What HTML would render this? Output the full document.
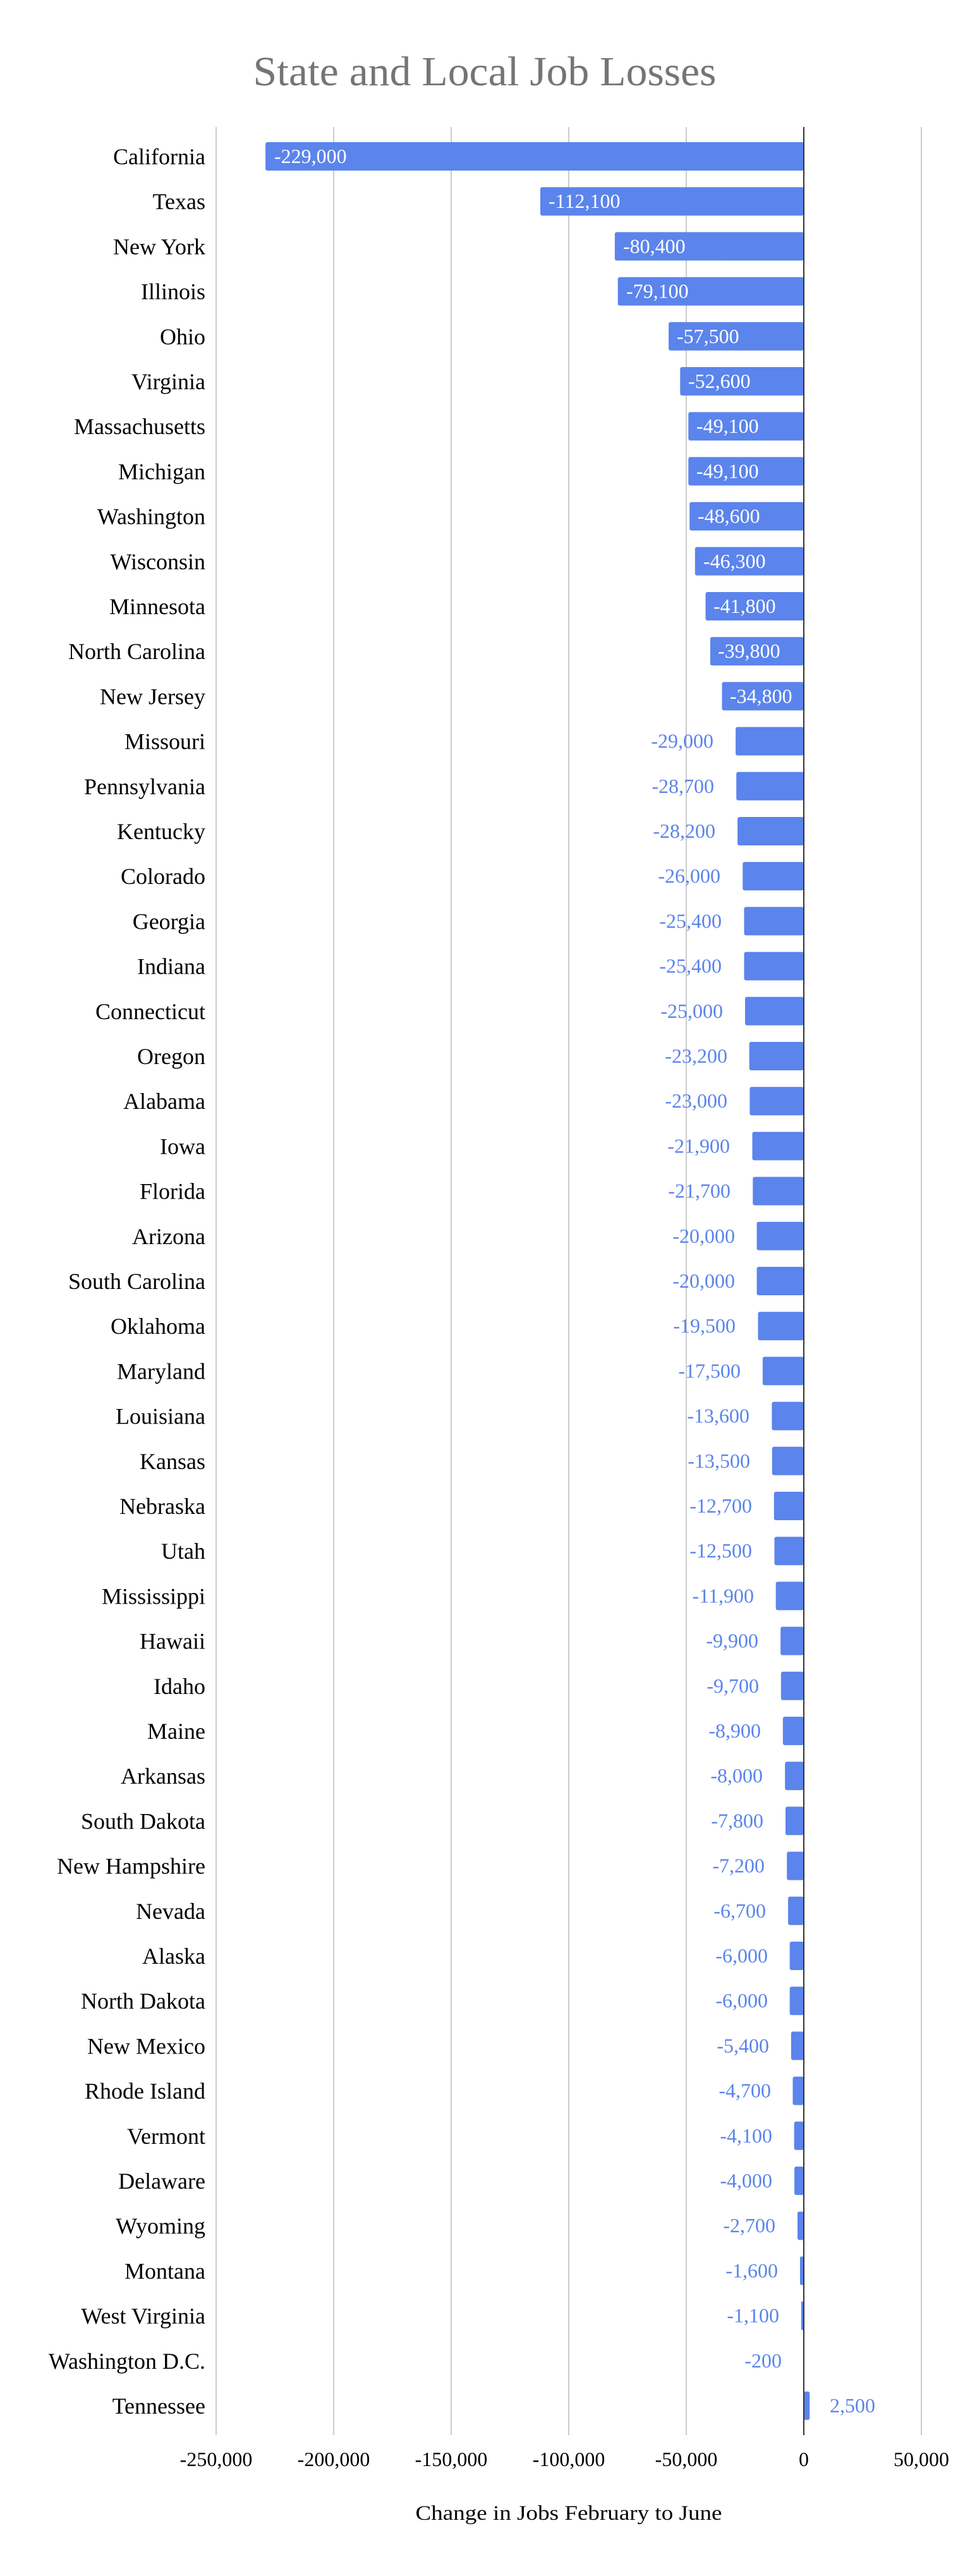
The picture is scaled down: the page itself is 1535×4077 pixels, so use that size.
<!DOCTYPE html>
<html><head><meta charset="utf-8"><style>
html,body{margin:0;padding:0;background:#fff;}
svg{display:block;}
.s{font-family:"Liberation Serif",serif;font-size:36px;fill:#000;text-anchor:end;}
.vi{font-family:"Liberation Serif",serif;font-size:32px;fill:#fff;}
.vo{font-family:"Liberation Serif",serif;font-size:32px;fill:#5b84ec;text-anchor:end;}
.t{font-family:"Liberation Serif",serif;font-size:32px;fill:#000;text-anchor:middle;}
</style></head><body>
<svg width="1535" height="4077" viewBox="0 0 1535 4077" xmlns="http://www.w3.org/2000/svg">
<rect width="1535" height="4077" fill="#fff"/>
<text x="767" y="135" font-family="Liberation Serif, serif" font-size="66" fill="#757575" text-anchor="middle" textLength="733" lengthAdjust="spacingAndGlyphs">State and Local Job Losses</text>
<g stroke="#cccccc" stroke-width="2">
<line x1="342" y1="201" x2="342" y2="3854"/><line x1="528" y1="201" x2="528" y2="3854"/><line x1="714" y1="201" x2="714" y2="3854"/><line x1="900" y1="201" x2="900" y2="3854"/><line x1="1086" y1="201" x2="1086" y2="3854"/><line x1="1458" y1="201" x2="1458" y2="3854"/>
</g>
<g fill="#5b84ec">
<rect x="420.1" y="225" width="851.9" height="45" rx="3"/>
<rect x="855.0" y="296.2" width="417.0" height="45" rx="3"/>
<rect x="972.9" y="367.4" width="299.1" height="45" rx="3"/>
<rect x="977.7" y="438.6" width="294.3" height="45" rx="3"/>
<rect x="1058.1" y="509.8" width="213.9" height="45" rx="3"/>
<rect x="1076.3" y="581.0" width="195.7" height="45" rx="3"/>
<rect x="1089.3" y="652.2" width="182.7" height="45" rx="3"/>
<rect x="1089.3" y="723.4" width="182.7" height="45" rx="3"/>
<rect x="1091.2" y="794.6" width="180.8" height="45" rx="3"/>
<rect x="1099.8" y="865.8" width="172.2" height="45" rx="3"/>
<rect x="1116.5" y="937.0" width="155.5" height="45" rx="3"/>
<rect x="1123.9" y="1008.2" width="148.1" height="45" rx="3"/>
<rect x="1142.5" y="1079.4" width="129.5" height="45" rx="3"/>
<rect x="1164.1" y="1150.6" width="107.9" height="45" rx="3"/>
<rect x="1165.2" y="1221.8" width="106.8" height="45" rx="3"/>
<rect x="1167.1" y="1293.0" width="104.9" height="45" rx="3"/>
<rect x="1175.3" y="1364.2" width="96.7" height="45" rx="3"/>
<rect x="1177.5" y="1435.4" width="94.5" height="45" rx="3"/>
<rect x="1177.5" y="1506.6" width="94.5" height="45" rx="3"/>
<rect x="1179.0" y="1577.8" width="93.0" height="45" rx="3"/>
<rect x="1185.7" y="1649.0" width="86.3" height="45" rx="3"/>
<rect x="1186.4" y="1720.2" width="85.6" height="45" rx="3"/>
<rect x="1190.5" y="1791.4" width="81.5" height="45" rx="3"/>
<rect x="1191.3" y="1862.6" width="80.7" height="45" rx="3"/>
<rect x="1197.6" y="1933.8" width="74.4" height="45" rx="3"/>
<rect x="1197.6" y="2005.0" width="74.4" height="45" rx="3"/>
<rect x="1199.5" y="2076.2" width="72.5" height="45" rx="3"/>
<rect x="1206.9" y="2147.4" width="65.1" height="45" rx="3"/>
<rect x="1221.4" y="2218.6" width="50.6" height="45" rx="3"/>
<rect x="1221.8" y="2289.8" width="50.2" height="45" rx="3"/>
<rect x="1224.8" y="2361.0" width="47.2" height="45" rx="3"/>
<rect x="1225.5" y="2432.2" width="46.5" height="45" rx="3"/>
<rect x="1227.7" y="2503.4" width="44.3" height="45" rx="3"/>
<rect x="1235.2" y="2574.6" width="36.8" height="45" rx="3"/>
<rect x="1235.9" y="2645.8" width="36.1" height="45" rx="3"/>
<rect x="1238.9" y="2717.0" width="33.1" height="45" rx="3"/>
<rect x="1242.2" y="2788.2" width="29.8" height="45" rx="3"/>
<rect x="1243.0" y="2859.4" width="29.0" height="45" rx="3"/>
<rect x="1245.2" y="2930.6" width="26.8" height="45" rx="3"/>
<rect x="1247.1" y="3001.8" width="24.9" height="45" rx="3"/>
<rect x="1249.7" y="3073.0" width="22.3" height="45" rx="3"/>
<rect x="1249.7" y="3144.2" width="22.3" height="45" rx="3"/>
<rect x="1251.9" y="3215.4" width="20.1" height="45" rx="3"/>
<rect x="1254.5" y="3286.6" width="17.5" height="45" rx="3"/>
<rect x="1256.7" y="3357.8" width="15.3" height="45" rx="3"/>
<rect x="1257.1" y="3429.0" width="14.9" height="45" rx="3"/>
<rect x="1262.0" y="3500.2" width="10.0" height="45" rx="3"/>
<rect x="1266.0" y="3571.4" width="6.0" height="45" rx="2"/>
<rect x="1267.9" y="3642.6" width="4.1" height="45" rx="1"/>
<rect x="1271.3" y="3713.8" width="0.7" height="45"/>
<rect x="1272" y="3785.0" width="9.3" height="45" rx="3"/>
</g>
<line x1="1272" y1="201" x2="1272" y2="3854" stroke="#333" stroke-width="2"/>
<g class="s">
<text class="s" x="325" y="260">California</text>
<text class="s" x="325" y="331.2">Texas</text>
<text class="s" x="325" y="402.4">New York</text>
<text class="s" x="325" y="473.6">Illinois</text>
<text class="s" x="325" y="544.8">Ohio</text>
<text class="s" x="325" y="616.0">Virginia</text>
<text class="s" x="325" y="687.2">Massachusetts</text>
<text class="s" x="325" y="758.4">Michigan</text>
<text class="s" x="325" y="829.6">Washington</text>
<text class="s" x="325" y="900.8">Wisconsin</text>
<text class="s" x="325" y="972.0">Minnesota</text>
<text class="s" x="325" y="1043.2">North Carolina</text>
<text class="s" x="325" y="1114.4">New Jersey</text>
<text class="s" x="325" y="1185.6">Missouri</text>
<text class="s" x="325" y="1256.8">Pennsylvania</text>
<text class="s" x="325" y="1328.0">Kentucky</text>
<text class="s" x="325" y="1399.2">Colorado</text>
<text class="s" x="325" y="1470.4">Georgia</text>
<text class="s" x="325" y="1541.6">Indiana</text>
<text class="s" x="325" y="1612.8">Connecticut</text>
<text class="s" x="325" y="1684.0">Oregon</text>
<text class="s" x="325" y="1755.2">Alabama</text>
<text class="s" x="325" y="1826.4">Iowa</text>
<text class="s" x="325" y="1897.6">Florida</text>
<text class="s" x="325" y="1968.8">Arizona</text>
<text class="s" x="325" y="2040.0">South Carolina</text>
<text class="s" x="325" y="2111.2">Oklahoma</text>
<text class="s" x="325" y="2182.4">Maryland</text>
<text class="s" x="325" y="2253.6">Louisiana</text>
<text class="s" x="325" y="2324.8">Kansas</text>
<text class="s" x="325" y="2396.0">Nebraska</text>
<text class="s" x="325" y="2467.2">Utah</text>
<text class="s" x="325" y="2538.4">Mississippi</text>
<text class="s" x="325" y="2609.6">Hawaii</text>
<text class="s" x="325" y="2680.8">Idaho</text>
<text class="s" x="325" y="2752.0">Maine</text>
<text class="s" x="325" y="2823.2">Arkansas</text>
<text class="s" x="325" y="2894.4">South Dakota</text>
<text class="s" x="325" y="2965.6">New Hampshire</text>
<text class="s" x="325" y="3036.8">Nevada</text>
<text class="s" x="325" y="3108.0">Alaska</text>
<text class="s" x="325" y="3179.2">North Dakota</text>
<text class="s" x="325" y="3250.4">New Mexico</text>
<text class="s" x="325" y="3321.6">Rhode Island</text>
<text class="s" x="325" y="3392.8">Vermont</text>
<text class="s" x="325" y="3464.0">Delaware</text>
<text class="s" x="325" y="3535.2">Wyoming</text>
<text class="s" x="325" y="3606.4">Montana</text>
<text class="s" x="325" y="3677.6">West Virginia</text>
<text class="s" x="325" y="3748.8">Washington D.C.</text>
<text class="s" x="325" y="3820.0">Tennessee</text>
</g>
<text class="vi" x="434" y="258">-229,000</text>
<text class="vi" x="868" y="329.2">-112,100</text>
<text class="vi" x="986" y="400.4">-80,400</text>
<text class="vi" x="991" y="471.6">-79,100</text>
<text class="vi" x="1071" y="542.8">-57,500</text>
<text class="vi" x="1089" y="614.0">-52,600</text>
<text class="vi" x="1102" y="685.2">-49,100</text>
<text class="vi" x="1102" y="756.4">-49,100</text>
<text class="vi" x="1104" y="827.6">-48,600</text>
<text class="vi" x="1113" y="898.8">-46,300</text>
<text class="vi" x="1129" y="970.0">-41,800</text>
<text class="vi" x="1136" y="1041.2">-39,800</text>
<text class="vi" x="1155" y="1112.4">-34,800</text>
<text class="vo" x="1129" y="1183.6">-29,000</text>
<text class="vo" x="1130" y="1254.8">-28,700</text>
<text class="vo" x="1132" y="1326.0">-28,200</text>
<text class="vo" x="1140" y="1397.2">-26,000</text>
<text class="vo" x="1142" y="1468.4">-25,400</text>
<text class="vo" x="1142" y="1539.6">-25,400</text>
<text class="vo" x="1144" y="1610.8">-25,000</text>
<text class="vo" x="1151" y="1682.0">-23,200</text>
<text class="vo" x="1151" y="1753.2">-23,000</text>
<text class="vo" x="1155" y="1824.4">-21,900</text>
<text class="vo" x="1156" y="1895.6">-21,700</text>
<text class="vo" x="1163" y="1966.8">-20,000</text>
<text class="vo" x="1163" y="2038.0">-20,000</text>
<text class="vo" x="1164" y="2109.2">-19,500</text>
<text class="vo" x="1172" y="2180.4">-17,500</text>
<text class="vo" x="1186" y="2251.6">-13,600</text>
<text class="vo" x="1187" y="2322.8">-13,500</text>
<text class="vo" x="1190" y="2394.0">-12,700</text>
<text class="vo" x="1190" y="2465.2">-12,500</text>
<text class="vo" x="1193" y="2536.4">-11,900</text>
<text class="vo" x="1200" y="2607.6">-9,900</text>
<text class="vo" x="1201" y="2678.8">-9,700</text>
<text class="vo" x="1204" y="2750.0">-8,900</text>
<text class="vo" x="1207" y="2821.2">-8,000</text>
<text class="vo" x="1208" y="2892.4">-7,800</text>
<text class="vo" x="1210" y="2963.6">-7,200</text>
<text class="vo" x="1212" y="3034.8">-6,700</text>
<text class="vo" x="1215" y="3106.0">-6,000</text>
<text class="vo" x="1215" y="3177.2">-6,000</text>
<text class="vo" x="1217" y="3248.4">-5,400</text>
<text class="vo" x="1220" y="3319.6">-4,700</text>
<text class="vo" x="1222" y="3390.8">-4,100</text>
<text class="vo" x="1222" y="3462.0">-4,000</text>
<text class="vo" x="1227" y="3533.2">-2,700</text>
<text class="vo" x="1231" y="3604.4">-1,600</text>
<text class="vo" x="1233" y="3675.6">-1,100</text>
<text class="vo" x="1237" y="3746.8">-200</text>
<text x="1313" y="3818.0" font-family="Liberation Serif, serif" font-size="32" fill="#5b84ec">2,500</text>
<g>
<text class="t" x="342" y="3903">-250,000</text>
<text class="t" x="528" y="3903">-200,000</text>
<text class="t" x="714" y="3903">-150,000</text>
<text class="t" x="900" y="3903">-100,000</text>
<text class="t" x="1086" y="3903">-50,000</text>
<text class="t" x="1272" y="3903">0</text>
<text class="t" x="1458" y="3903">50,000</text>
</g>
<text x="900" y="3988" font-family="Liberation Serif, serif" font-size="33" fill="#000" text-anchor="middle" textLength="485" lengthAdjust="spacingAndGlyphs">Change in Jobs February to June</text>
</svg>
</body></html>
